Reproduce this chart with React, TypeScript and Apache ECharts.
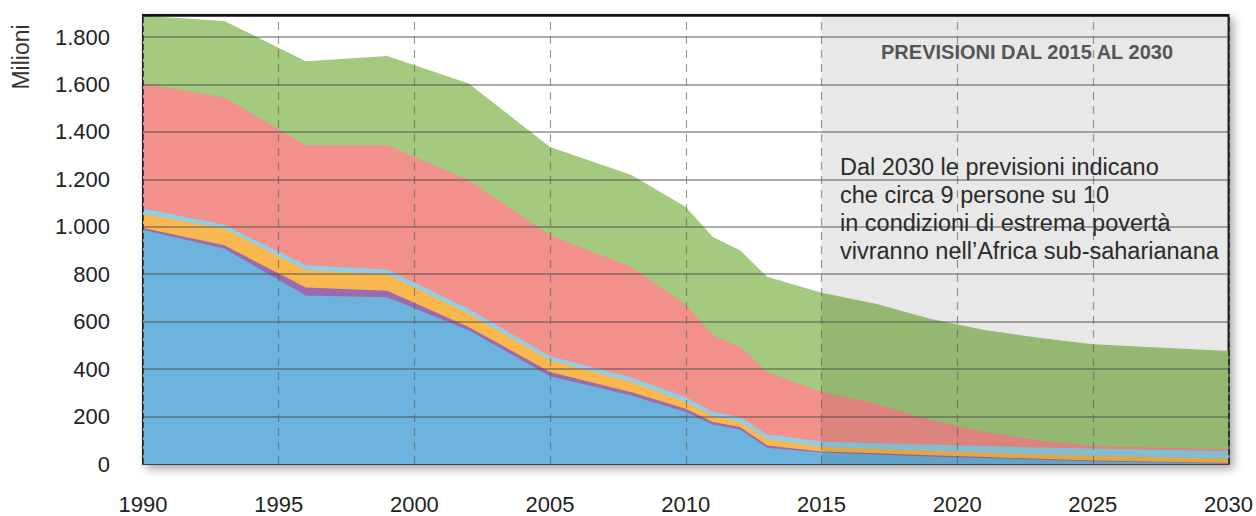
import React, { useEffect, useRef } from "react";
import * as echarts from "echarts";

const years = [1990, 1993, 1996, 1999, 2002, 2005, 2008, 2010, 2011, 2012, 2013, 2015, 2017, 2019, 2021, 2023, 2025, 2030];
const eastAsia = [988, 908, 710, 703, 564, 370, 289, 219, 167, 145, 68, 48, 40, 32, 25, 18, 12, 2];
const europe = [7, 14, 34, 27, 14, 18, 14, 14, 10, 11, 10, 5, 5, 5, 4, 4, 3, 2];
const latinAmerica = [59, 71, 73, 70, 56, 49, 43, 28, 24, 21, 27, 19, 19, 19, 19, 18, 20, 18];
const middleEast = [23, 16, 21, 20, 21, 17, 19, 21, 18, 21, 19, 23, 24, 26, 28, 30, 30, 33];
const southAsia = [527, 536, 506, 524, 542, 510, 466, 390, 324, 295, 264, 210, 166, 103, 59, 30, 11, 7];
const subSaharan = [286, 323, 354, 376, 407, 373, 387, 412, 414, 408, 401, 417, 422, 427, 430, 432, 429, 414];

const seriesNames = ["Asia orientale e Pacifico", "Europa e Asia centrale", "America Latina e Caraibi", "Medio Oriente e Nord Africa", "Asia meridionale", "Africa sub-sahariana"];
const seriesColors = ["#6cb4de", "#9a6bae", "#f8b84f", "#90cee4", "#f2908b", "#a3ca7e"];

const xTicks = [1990, 1995, 2000, 2005, 2010, 2015, 2020, 2025, 2030];
const yTicks = [0, 200, 400, 600, 800, 1000, 1200, 1400, 1600, 1800];
const yTickLabels = ["0", "200", "400", "600", "800", "1.000", "1.200", "1.400", "1.600", "1.800"];
const yMax = 1893;
const forecastRange = [2015, 2030];

const forecastTitle = "PREVISIONI DAL 2015 AL 2030";
const noteLines = [
  "Dal 2030 le previsioni indicano",
  "che circa 9 persone su 10",
  "in condizioni di estrema povertà",
  "vivranno nell’Africa sub-saharianana",
];

const FONT = "'Liberation Sans', Arial, Helvetica, sans-serif";

export default function App() {
  const ref = useRef<HTMLDivElement>(null);

  useEffect(() => {
    if (!ref.current) return;
    const chart = echarts.init(ref.current, null, { renderer: "svg" });
    const layers = [eastAsia, europe, latinAmerica, middleEast, southAsia, subSaharan];

    // cumulative tops of each stacked layer
    const cumulative: number[][] = [];
    layers.forEach((vals, i) => {
      cumulative.push(vals.map((v, j) => v + (i > 0 ? cumulative[i - 1][j] : 0)));
    });

    // draw from the top layer down so each lower band covers the one above
    const areaSeries = layers
      .map((_, i) => ({
        name: seriesNames[i],
        type: "line",
        symbol: "none",
        z: 2,
        lineStyle: { width: 0, opacity: 0 },
        areaStyle: { color: seriesColors[i], opacity: 1 },
        data: years.map((y, j) => [y, cumulative[i][j]]),
      }))
      .reverse();

    const hLines = yTicks.filter((v) => v > 0).map((v) => ({ yAxis: v }));
    const vLines = xTicks.map((x, i) => {
      const edge = i === 0 || i === xTicks.length - 1;
      return {
        xAxis: x,
        lineStyle: edge
          ? { color: "#222", width: 1.5, type: [6, 3] }
          : { color: "rgba(90,90,90,0.6)", width: 1.2, type: [8, 6] },
      };
    });

    const option: any = {
      animation: false,
      backgroundColor: "#fff",
      grid: {
        left: 143,
        right: 25,
        top: 15,
        bottom: 52,
        show: true,
        backgroundColor: "#fff",
        borderColor: "#222",
        borderWidth: 2,
        shadowBlur: 10,
        shadowOffsetX: 4,
        shadowOffsetY: 4,
        shadowColor: "rgba(0,0,0,0.35)",
      },
      xAxis: {
        type: "value",
        min: 1990,
        max: 2030,
        interval: 5,
        axisLine: { show: true, lineStyle: { color: "#444", width: 2 } },
        axisTick: { show: false },
        splitLine: { show: false },
        axisLabel: { fontSize: 22, color: "#222", fontFamily: FONT, margin: 29, formatter: (v: number) => String(v) },
      },
      yAxis: {
        type: "value",
        min: 0,
        max: yMax,
        interval: 200,
        axisLine: { show: false },
        axisTick: { show: false },
        splitLine: { show: false },
        axisLabel: {
          fontSize: 22,
          color: "#222",
          fontFamily: FONT,
          margin: 33,
          formatter: (v: number) => {
            const i = yTicks.indexOf(v);
            return i >= 0 ? yTickLabels[i] : "";
          },
        },
      },
      series: [
        ...areaSeries,
        {
          name: "forecast",
          type: "line",
          symbol: "none",
          z: 3,
          lineStyle: { width: 0, opacity: 0 },
          areaStyle: { color: "rgba(0,0,0,0.09)", opacity: 1 },
          data: [
            [forecastRange[0], yMax],
            [forecastRange[1], yMax],
          ],
          markLine: {
            silent: true,
            symbol: "none",
            label: { show: false },
            lineStyle: { color: "rgba(70,70,70,0.45)", width: 2, type: "solid" },
            data: [...hLines, ...vLines, { yAxis: yMax, lineStyle: { color: "#111", width: 2.5, type: "solid" } }],
          },
        },
      ],
      graphic: [
        {
          type: "text",
          x: 21,
          y: 57,
          rotation: Math.PI / 2,
          z: 100,
          style: {
            text: "Milioni",
            fontSize: 23,
            fontFamily: FONT,
            fill: "#333",
            textAlign: "center",
            textVerticalAlign: "middle",
          },
        },
        {
          type: "text",
          x: 1027,
          y: 52,
          z: 100,
          style: {
            text: forecastTitle,
            fontSize: 20,
            fontWeight: "bold",
            fontFamily: FONT,
            fill: "#555",
            textAlign: "center",
            textVerticalAlign: "middle",
          },
        },
        {
          type: "text",
          x: 840,
          y: 153,
          z: 100,
          style: {
            text: noteLines.join("\n"),
            fontSize: 23.5,
            lineHeight: 28,
            fontFamily: FONT,
            fill: "#2a2a2a",
            textAlign: "left",
            textVerticalAlign: "top",
          },
        },
      ],
    };

    chart.setOption(option);
    return () => chart.dispose();
  }, []);

  return <div ref={ref} style={{ position: "fixed", left: 0, top: 0, width: 1256, height: 516 }} />;
}
